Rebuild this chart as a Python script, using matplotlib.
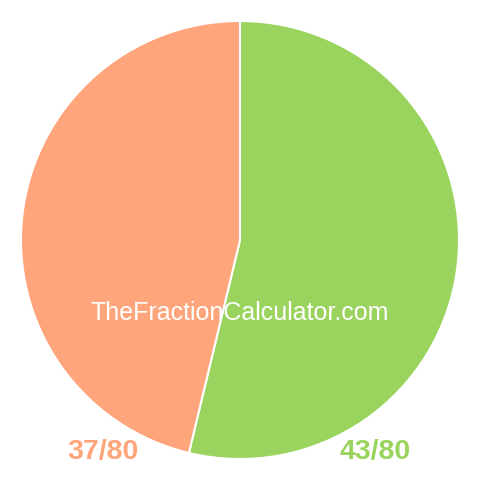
import matplotlib
matplotlib.use("Agg")
from matplotlib import pyplot as plt

labels = ["43/80", "37/80"]
values = [43, 37]
colours = ["#9AD45F", "#FEA57B"]

fig = plt.figure(figsize=(4.8, 4.8), dpi=100)
ax = fig.add_axes([0, 0, 1, 1])

ax.pie(values, colors=colours, startangle=90, counterclock=False,
       radius=219, center=(0, 0), frame=True,
       wedgeprops=dict(edgecolor="white", linewidth=1.5))
ax.set_xlim(-240, 240)
ax.set_ylim(-240, 240)
ax.set_aspect("equal")
ax.axis("off")

ax.text(0, -73, "TheFractionCalculator.com", color="white", fontsize=18.0,
        family="Liberation Sans", ha="center", va="center")
ax.text(-137, -212, labels[1], color=colours[1], fontsize=20.5, weight="bold",
        family="Liberation Sans", ha="center", va="center")
ax.text(135, -212, labels[0], color=colours[0], fontsize=20.5, weight="bold",
        family="Liberation Sans", ha="center", va="center")

fig.savefig("out.png", dpi=100)
